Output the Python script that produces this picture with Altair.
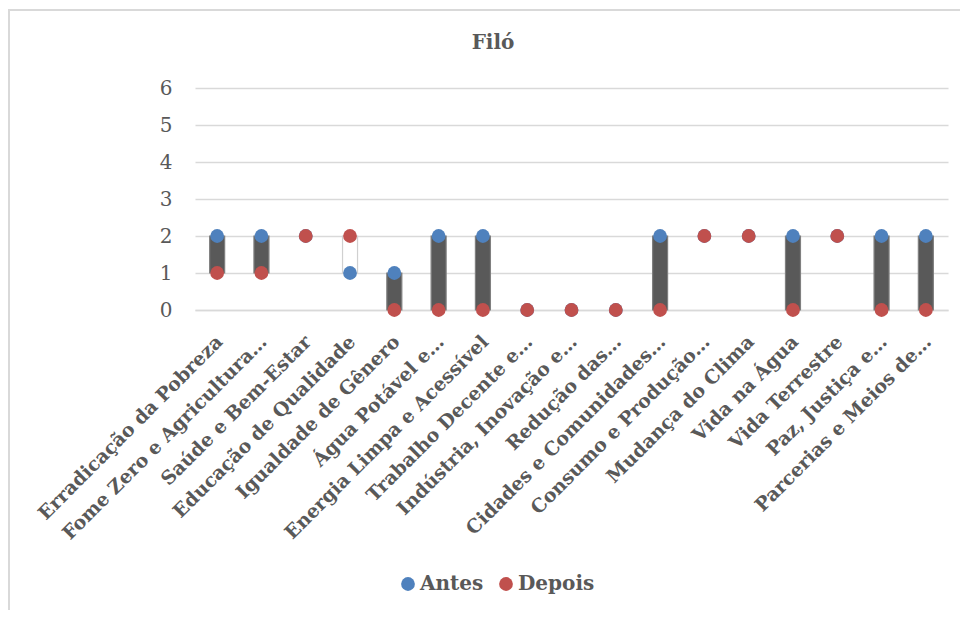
import altair as alt
import pandas as pd

categories = [
    "Erradicação da Pobreza",
    "Fome Zero e Agricultura…",
    "Saúde e Bem-Estar",
    "Educação de Qualidade",
    "Igualdade de Gênero",
    "Água Potável e…",
    "Energia Limpa e Acessível",
    "Trabalho Decente e…",
    "Indústria, Inovação e…",
    "Redução das…",
    "Cidades e Comunidades…",
    "Consumo e Produção…",
    "Mudança do Clima",
    "Vida na Água",
    "Vida Terrestre",
    "Paz, Justiça e…",
    "Parcerias e Meios de…",
]
antes = [2, 2, 2, 1, 1, 2, 2, 0, 0, 0, 2, 2, 2, 2, 2, 2, 2]
depois = [1, 1, 2, 2, 0, 0, 0, 0, 0, 0, 0, 2, 2, 0, 2, 0, 0]
series = ["Antes", "Depois"]
colors = ["#4F81BD", "#C0504D"]
title_text = ["Filó"]

FONT = "DejaVu Serif"
TXT = "#595959"

wide = pd.DataFrame({"cat": categories, "Antes": antes, "Depois": depois})
long = pd.concat([
    pd.DataFrame({"cat": categories, "serie": "Antes", "valor": antes}),
    pd.DataFrame({"cat": categories, "serie": "Depois", "valor": depois}),
], ignore_index=True)

xenc = alt.X(
    "cat:N", sort=categories, title=None,
    scale=alt.Scale(paddingInner=0, paddingOuter=0),
    axis=alt.Axis(labelAngle=-45, labelFont=FONT, labelFontWeight="bold",
                  labelFontSize=19, labelColor=TXT, labelLimit=400,
                  labelPadding=22, labelOffset=-4, ticks=False,
                  domainColor="#D9D9D9", domainWidth=1.5, grid=False),
)
yscale = alt.Scale(domain=[0, 6], nice=False)
yaxis = alt.Axis(values=[0, 1, 2, 3, 4, 5, 6], labelFont=FONT,
                 labelFontSize=20, labelColor=TXT, ticks=False,
                 domain=False, gridColor="#D9D9D9", gridWidth=1.5,
                 labelPadding=23)

bars = alt.Chart(wide).transform_filter(
    alt.datum.Antes != alt.datum.Depois
).mark_bar(size=15, strokeWidth=1.2).encode(
    x=xenc,
    y=alt.Y("Antes:Q", scale=yscale, title=None, axis=yaxis),
    y2="Depois:Q",
    fill=alt.condition(alt.datum.Antes > alt.datum.Depois,
                       alt.value("#595959"), alt.value("#FFFFFF")),
    stroke=alt.condition(alt.datum.Antes > alt.datum.Depois,
                         alt.value("#7F7F7F"), alt.value("#D0D0D0")),
)

points = alt.Chart(long).mark_circle(size=190, opacity=1).encode(
    x=xenc,
    y=alt.Y("valor:Q", scale=yscale, title=None, axis=yaxis),
    color=alt.Color("serie:N", scale=alt.Scale(domain=series, range=colors),
                    legend=alt.Legend(title=None, orient="none",
                                      direction="horizontal",
                                      legendX=203, legendY=486,
                                      symbolType="circle", symbolSize=190,
                                      labelFont=FONT, labelFontSize=20,
                                      labelFontWeight="bold", labelColor=TXT,
                                      columnPadding=12, labelOffset=2)),
)

title = alt.Chart(pd.DataFrame({"t": title_text})).mark_text(
    font=FONT, fontSize=20, fontWeight="bold", color=TXT,
    align="center", baseline="middle"
).encode(text="t:N", x=alt.value(298), y=alt.value(-45))

frame = alt.Chart(pd.DataFrame({"t": title_text})).mark_rect(
    fill=None, stroke="#D9D9D9", strokeWidth=2
).encode(x=alt.value(-186), x2=alt.value(900), y=alt.value(-78), y2=alt.value(700))

chart = alt.layer(frame, bars, points, title).properties(
    width=753, height=222,
    autosize=alt.AutoSizeParams(type="none"),
    padding={"left": 187, "top": 80, "right": 12, "bottom": 300},
).configure(background="white").configure_view(stroke=None)

chart.save("out.html", embed_options={"renderer": "svg", "actions": False})
